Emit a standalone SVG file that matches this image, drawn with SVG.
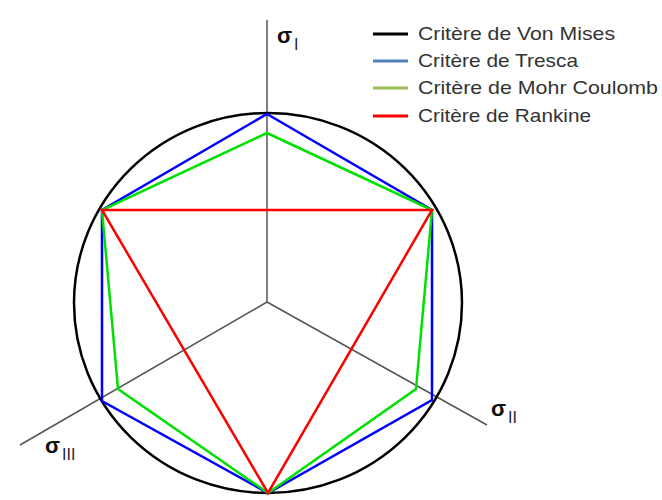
<svg xmlns="http://www.w3.org/2000/svg" width="662" height="500" viewBox="0 0 662 500">
<style>
.axis{stroke:#555;stroke-width:1.5;fill:none}
.crit{fill:none;stroke-width:2.5;stroke-linejoin:miter}
.leg{font-family:"Liberation Sans",Arial,sans-serif;font-size:19px;fill:#333}
.sig{font-family:"Liberation Sans",Arial,sans-serif;fill:#111;font-size:22px;font-weight:bold}
.sub{font-size:16px;font-weight:normal;fill:#223}
</style>
<rect width="662" height="500" fill="#fff"/>
<g id="axes">
<line class="axis" x1="267" y1="20" x2="267" y2="302"/>
<line class="axis" x1="267" y1="302" x2="487" y2="425"/>
<line class="axis" x1="267" y1="302" x2="20" y2="445"/>
</g>
<g id="von-mises"><ellipse class="crit" cx="268" cy="303" rx="194" ry="190" stroke="#000"/></g>
<g id="tresca"><polygon class="crit" stroke="#0000ff" points="267,114 432,210 432,400 268,493 102,401 102,210"/></g>
<g id="mohr-coulomb"><polygon class="crit" stroke="#00e000" points="267,133 432,210 416,389 268,493 118,389 102,210"/></g>
<g id="rankine"><polygon class="crit" stroke="#ff0000" points="102,210 432,210 268,493"/></g>
<g id="labels">
<text class="sig" x="277" y="43">σ<tspan class="sub" dx="2" dy="7">I</tspan></text>
<text class="sig" x="491" y="416">σ<tspan class="sub" dx="2" dy="7">II</tspan></text>
<text class="sig" x="45" y="453">σ<tspan class="sub" dx="2" dy="7">III</tspan></text>
</g>
<g id="legend">
<line x1="373" y1="34" x2="408" y2="34" stroke="#000" stroke-width="3"/>
<line x1="373" y1="61" x2="408" y2="61" stroke="#4f81bd" stroke-width="3"/>
<line x1="373" y1="88" x2="408" y2="88" stroke="#9bbb59" stroke-width="3"/>
<line x1="373" y1="116" x2="408" y2="116" stroke="#ff0000" stroke-width="3"/>
<text class="leg" x="418" y="40" textLength="197" lengthAdjust="spacingAndGlyphs">Critère de Von Mises</text>
<text class="leg" x="418" y="67" textLength="160" lengthAdjust="spacingAndGlyphs">Critère de Tresca</text>
<text class="leg" x="418" y="94" textLength="240" lengthAdjust="spacingAndGlyphs">Critère de Mohr Coulomb</text>
<text class="leg" x="418" y="122" textLength="173" lengthAdjust="spacingAndGlyphs">Critère de Rankine</text>
</g>
</svg>
